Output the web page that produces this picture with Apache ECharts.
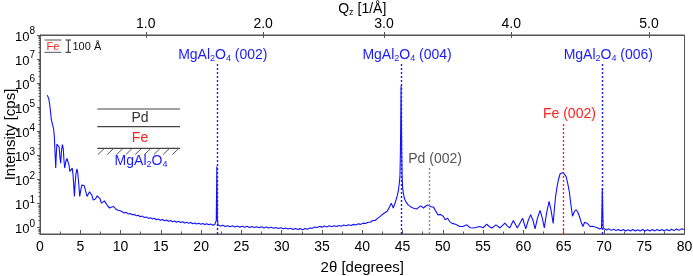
<!DOCTYPE html>
<html><head><meta charset="utf-8">
<script src="https://cdn.jsdelivr.net/npm/echarts@6/dist/echarts.min.js"></script>
<style>html,body{margin:0;padding:0;background:#fff}#c{width:693px;height:276px}</style>
</head><body><div id="c"></div>
<script>
// ---- measured scan: 2theta (deg) and intensity (cps); each line of twoTheta matches the same line of counts ----
const twoTheta = [
 0.9,1.0,1.1,1.2,1.3,1.4,1.5,1.6,1.7,1.78,1.86,1.95,2.03,2.1,2.18,2.28,2.38,2.47,2.57,2.67,2.78,2.88,2.98,3.07,
 3.2,3.35,3.47,3.6,3.7,3.78,3.9,4.0,4.1,4.2,4.27,4.35,4.45,4.58,4.68,4.8,4.93,5.05,5.2,5.35,5.5,5.65,5.84,
 6.0,6.15,6.28,6.45,6.6,6.72,6.9,7.1,7.28,7.45,7.62,7.8,8.0,8.2,8.4,8.65,8.9,9.15,9.4,9.65,9.9,
 10.2,10.45,10.7,10.95,11.2,11.45,11.7,11.95,12.2,12.45,12.7,12.95,13.2,13.45,13.7,13.95,14.2,14.45,14.7,14.95,
 15.2,15.45,15.7,15.95,16.2,16.45,16.7,16.95,17.2,17.45,17.7,17.95,18.2,18.45,18.7,18.95,19.2,19.45,19.7,19.95,
 20.2,20.45,20.7,20.95,21.2,21.45,21.7,21.82,21.88,21.95,22.02,22.1,
 22.4,22.7,23.0,23.3,23.6,23.9,24.2,24.5,24.8,25.1,25.4,25.7,26.0,26.3,26.6,26.9,27.2,27.5,27.8,28.1,
 28.4,28.7,29.0,29.3,29.6,29.9,30.2,30.5,30.8,31.1,31.4,31.7,32.0,32.3,32.6,32.9,33.2,33.5,33.8,34.1,
 34.4,34.7,35.0,35.3,35.6,35.9,36.2,36.5,36.8,37.1,37.4,37.7,38.0,38.3,38.6,38.9,39.2,39.5,39.8,40.1,
 40.4,40.7,41.0,41.3,41.6,41.9,42.1,42.3,42.5,42.7,42.9,43.1,43.25,43.4,43.6,43.75,43.85,
 44.0,44.2,44.35,44.47,44.6,44.68,44.74,44.78,44.82,44.86,44.9,44.95,45.0,45.1,45.2,45.3,45.5,45.7,46.0,46.3,46.5,46.75,47.0,47.25,47.45,
 47.6,47.85,48.1,48.3,48.5,48.7,48.85,49.0,49.2,49.4,49.55,49.7,49.85,50.05,50.3,50.45,50.6,50.85,51.1,51.4,51.7,52.1,52.5,52.97,53.4,53.8,
 54.2,54.6,55.0,55.45,55.8,56.1,56.6,57.1,57.7,58.0,58.3,58.75,59.0,59.25,59.6,59.9,60.1,60.3,60.6,60.9,61.2,61.45,61.75,62.07,62.35,62.6,
 62.9,63.2,63.45,63.7,63.85,64.0,64.2,64.35,64.56,64.75,64.9,65.1,65.3,65.5,65.7,65.9,66.1,66.3,66.55,66.75,66.95,67.2,67.4,67.6,67.75,67.95,
 68.3,68.6,68.9,69.2,69.45,69.7,69.76,69.8,69.84,69.9,70.0,
 70.3,70.6,70.9,71.2,71.5,71.8,72.1,72.4,72.7,73.0,73.3,73.6,73.9,74.2,74.5,74.8,75.1,75.4,75.7,76.0,
 76.3,76.6,76.9,77.2,77.5,77.8,78.1,78.4,78.7,79.0,79.3,79.6,79.8,80.0
];
const counts = [
 3.2e5,2.9e5,2.2e5,1.3e5,7e4,3.2e4,2.3e4,2.0e4,1.2e4,6e3,1.5e3,300,1.2e3,3.0e3,3.5e3,3.3e3,2.2e3,900,480,1.6e3,2.8e3,2.0e3,600,300,
 550,750,780,400,220,190,260,300,160,50,20,60,160,280,200,70,20,35,60,70,55,35,20,
 25,31,32,22,14,12,16,21,23,16,10.5,11.5,13,11,8,6.6,7.3,7.6,6.0,5.3,5.2,
 4.6,4.1,4.35,3.75,3.9,3.45,3.6,3.15,3.3,2.85,3.05,2.65,2.8,2.45,2.62,2.3,2.47,2.15,2.32,2.05,
 2.2,1.95,2.1,1.85,2.0,1.78,1.92,1.7,1.85,1.66,1.78,1.58,1.7,1.52,1.64,1.47,1.58,1.43,1.54,1.4,
 1.5,1.36,1.45,1.32,1.42,1.28,1.38,1.3,2.0,350,2.2,1.3,
 1.18,1.28,1.12,1.22,1.1,1.2,1.08,1.18,1.06,1.16,1.05,1.15,1.03,1.12,1.02,1.1,1.0,1.1,0.98,1.07,
 0.97,1.05,0.95,1.03,0.93,1.0,0.9,0.98,0.88,0.95,0.85,0.93,0.84,0.92,0.83,0.93,0.86,0.97,0.95,1.07,
 1.02,1.14,1.06,1.17,1.08,1.2,1.1,1.22,1.13,1.25,1.16,1.29,1.2,1.33,1.25,1.38,1.3,1.45,1.38,1.55,
 1.5,1.7,1.7,2.0,2.0,2.45,2.5,3.1,3.0,4.0,3.8,4.8,4.5,7.5,10.5,8.0,6.6,
 9,14.5,22,32,70,135,1.5e3,3e4,7.8e5,3e4,1.5e3,150,51,28,18,14.5,11,8.9,7.5,6.6,6.3,6.0,7.0,8.1,7.2,
 6.6,7.8,8.9,8.2,7.4,7.6,7.2,5.8,4.8,3.4,3.0,3.6,4.1,3.0,2.15,2.4,2.5,1.8,1.55,1.45,1.32,1.12,1.12,1.32,1.0,0.98,
 1.05,1.12,1.0,1.4,1.1,0.98,1.32,0.98,1.55,1.2,0.98,2.0,1.4,0.98,1.6,2.5,1.5,0.89,2.0,3.5,2.0,0.89,2.5,5.2,2.5,0.98,
 4.5,12.3,5,1.5,6,20,55,98,174,195,195,170,135,70,32,9,3.0,4.5,5.6,4.5,3.0,1.6,1.12,1.7,1.95,1.5,
 1.12,1.15,1.07,1.0,0.89,0.95,8,45,8,1.0,0.91,
 0.8,0.9,0.78,0.86,0.76,0.85,0.75,0.84,0.74,0.83,0.74,0.84,0.73,0.83,0.74,0.84,0.73,0.83,0.74,0.84,
 0.74,0.85,0.75,0.84,0.74,0.85,0.75,0.86,0.76,0.88,0.78,0.9,0.8,0.85
];
// ---- axes ----
const yTickValues = [1,10,100,1e3,1e4,1e5,1e6,1e7,1e8];
const qTickLabels = ['1.0','2.0','3.0','4.0','5.0'];
const qTickPositions = [13.13, 27.7, 42.7, 58.5, 75.6];   // 2theta where Qz ticks sit
// ---- peak annotations ----
const peakNames = ['MgAl2O4 (002)','MgAl2O4 (004)','MgAl2O4 (006)','Pd (002)','Fe (002)'];
const peakPositions = [21.95, 44.82, 69.8, 48.3, 64.97];
const peakLineTops = [7.1e6, 6.8e6, 6.8e6, 330, 2.34e4];
const peakKinds = ['sub','sub','sub','pd','fe'];

const Y_MIN = 0.55, Y_MAX = 1e8;
const FONT = "'Liberation Sans', Arial, sans-serif";
const kindColor = {sub:'#1a1aff', pd:'#8c8c8c', fe:'#ff2020'};
const kindText = {sub:'#1a1aff', pd:'#555555', fe:'#ff2020'};
const AX = '#555';

function chem(name){
  return '{m|' + name.replace(/([A-Za-z])(\d)/g, '$1}{s|$2}{m|') + '}';
}
const minorVals = [];
for (let e = -1; e < 8; e++) for (let k = 2; k <= 9; k++) { const v = k * Math.pow(10, e); if (v > Y_MIN && v < Y_MAX) minorVals.push(+v.toPrecision(3)); }

const chart = echarts.init(document.getElementById('c'), null, {renderer:'canvas'});
const scan = twoTheta.map((t, i) => [t, counts[i]]);

const markData = peakNames.map((n, i) => {
  const k = peakKinds[i];
  return [{
    coord: [peakPositions[i], Y_MIN],
    lineStyle: {color: kindColor[k], type: [2, 2], width: 1.4},
    label: {show: true, position: 'end', distance: 0, formatter: chem(n), color: kindText[k], padding: [0,0,0,12],
      rich: {m: {fontSize: 14, lineHeight: 15, verticalAlign: 'top', fontFamily: FONT}, s: {fontSize: 9, verticalAlign: 'bottom', fontFamily: FONT}}}
  }, {coord: [peakPositions[i], peakLineTops[i]]}];
});

const graphics = [];
// inset: Fe thickness + 100 A scale bar
graphics.push({type:'line', shape:{x1:44.5,y1:40,x2:61.5,y2:40}, style:{stroke:'#555', lineWidth:1}});
graphics.push({type:'line', shape:{x1:44.5,y1:52.3,x2:61.5,y2:52.3}, style:{stroke:'#555', lineWidth:1}});
graphics.push({type:'text', x:53, y:46.5, style:{text:'Fe', fill:'#ff2020', font:'11px '+FONT, textAlign:'center', textVerticalAlign:'middle'}});
graphics.push({type:'line', shape:{x1:68.3,y1:40,x2:68.3,y2:52.3}, style:{stroke:'#222', lineWidth:1}});
graphics.push({type:'line', shape:{x1:65.5,y1:40,x2:71,y2:40}, style:{stroke:'#222', lineWidth:1}});
graphics.push({type:'line', shape:{x1:65.5,y1:52.3,x2:71,y2:52.3}, style:{stroke:'#222', lineWidth:1}});
graphics.push({type:'text', x:72.5, y:46.5, style:{text:'100 Å', fill:'#111', font:'11px '+FONT, textAlign:'left', textVerticalAlign:'middle'}});
// layer schematic
[109, 126.7, 148.3].forEach(y => graphics.push({type:'line', shape:{x1:97.3,y1:y,x2:180,y2:y}, style:{stroke:'#444', lineWidth:1.2}}));
for (let i = 0; i < 9; i++) { const x = 104 + i * 9.3; graphics.push({type:'line', shape:{x1:x,y1:148.8,x2:x-6,y2:154.5}, style:{stroke:'#444', lineWidth:0.9}}); }
graphics.push({type:'text', x:140, y:118.3, style:{text:'Pd', fill:'#333', font:'14px '+FONT, textAlign:'center', textVerticalAlign:'middle'}});
graphics.push({type:'text', x:140, y:138.3, style:{text:'Fe', fill:'#ff2020', font:'14px '+FONT, textAlign:'center', textVerticalAlign:'middle'}});
graphics.push({type:'text', x:141, y:161.5, style:{text:chem('MgAl2O4'), fill:'#1a1aff', textAlign:'center', textVerticalAlign:'middle',
  rich:{m:{fontSize:14, lineHeight:15, verticalAlign:'top', fontFamily:FONT, fill:'#1a1aff'}, s:{fontSize:9, verticalAlign:'bottom', fontFamily:FONT, fill:'#1a1aff'}}}});

const option = {
  animation: false,
  backgroundColor: '#fff',
  grid: {left: 40, right: 8.5, top: 35, bottom: 42, containLabel: false, outerBoundsMode: 'none',
    show: true, borderColor: AX, borderWidth: 1, backgroundColor: 'transparent'},
  xAxis: [{
    type: 'value', min: 0, max: 80, interval: 5, position: 'bottom',
    axisLine: {lineStyle: {color: AX, width: 1}},
    axisTick: {inside: true, length: 4, lineStyle: {color: AX}},
    minorTick: {show: true, splitNumber: 2, length: 2.5, lineStyle: {color: AX}},
    axisLabel: {margin: 6, fontSize: 14, color: '#000', fontFamily: FONT},
    splitLine: {show: false}, minorSplitLine: {show: false},
    name: '2θ [degrees]', nameLocation: 'middle', nameGap: 26, nameMoveOverlap: false,
    nameTextStyle: {fontSize: 15, color: '#000', fontFamily: FONT}
  }, {
    type: 'value', min: 0, max: 80, position: 'top',
    axisLine: {lineStyle: {color: AX, width: 1}},
    axisTick: {inside: true, length: 3, customValues: qTickPositions, lineStyle: {color: AX}},
    axisLabel: {margin: 4, fontSize: 14, color: '#000', fontFamily: FONT, customValues: qTickPositions,
      formatter: v => { const i = qTickPositions.findIndex(p => Math.abs(p - v) < 1e-6); return i >= 0 ? qTickLabels[i] : ''; }},
    splitLine: {show: false},
    name: '{q|Q}{z|z}{q| [1/Å]}', nameLocation: 'middle', nameGap: 18, nameMoveOverlap: false,
    nameTextStyle: {color: '#000', rich: {q: {fontSize: 14, lineHeight: 15, verticalAlign: 'top', fontFamily: FONT, color:'#000'}, z: {fontSize: 9, verticalAlign: 'bottom', fontFamily: FONT, color:'#000'}}}
  }, {
    type: 'value', min: 0, max: 80, position: 'top',
    axisLine: {show: false},
    axisTick: {inside: false, length: 3, customValues: qTickPositions, lineStyle: {color: AX}},
    axisLabel: {show: false}, splitLine: {show: false}
  }],
  yAxis: [{
    type: 'log', logBase: 10, min: Y_MIN, max: Y_MAX,
    axisLine: {show: true, lineStyle: {color: AX, width: 1}},
    axisTick: {show: true, inside: false, length: 3, customValues: yTickValues, lineStyle: {color: AX}},
    axisLabel: {margin: 5, color: '#000', customValues: yTickValues,
      formatter: v => '{b|10}{s|' + Math.round(Math.log10(v)) + '}',
      rich: {b: {fontSize: 13, lineHeight: 17, verticalAlign: 'bottom', fontFamily: FONT, color:'#000'}, s: {fontSize: 10, verticalAlign: 'top', fontFamily: FONT, color:'#000'}}},
    splitLine: {show: false},
    name: 'Intensity [cps]', nameLocation: 'middle', nameGap: 22, nameMoveOverlap: false,
    nameTextStyle: {fontSize: 15, color: '#000', fontFamily: FONT}
  }, {
    type: 'log', logBase: 10, min: Y_MIN, max: Y_MAX, position: 'left',
    axisLine: {show: false},
    axisTick: {show: true, inside: false, length: 1.5, customValues: minorVals, lineStyle: {color: AX}},
    axisLabel: {show: false}, splitLine: {show: false}
  }],
  graphic: graphics,
  series: [{
    type: 'line', data: scan, xAxisIndex: 0, yAxisIndex: 0,
    showSymbol: false, symbol: 'none', smooth: false, clip: true,
    lineStyle: {color: '#1010ff', width: 1.1},
    markLine: {silent: true, symbol: ['none', 'none'], animation: false, data: markData}
  }]
};
chart.setOption(option);
</script>
</body></html>
